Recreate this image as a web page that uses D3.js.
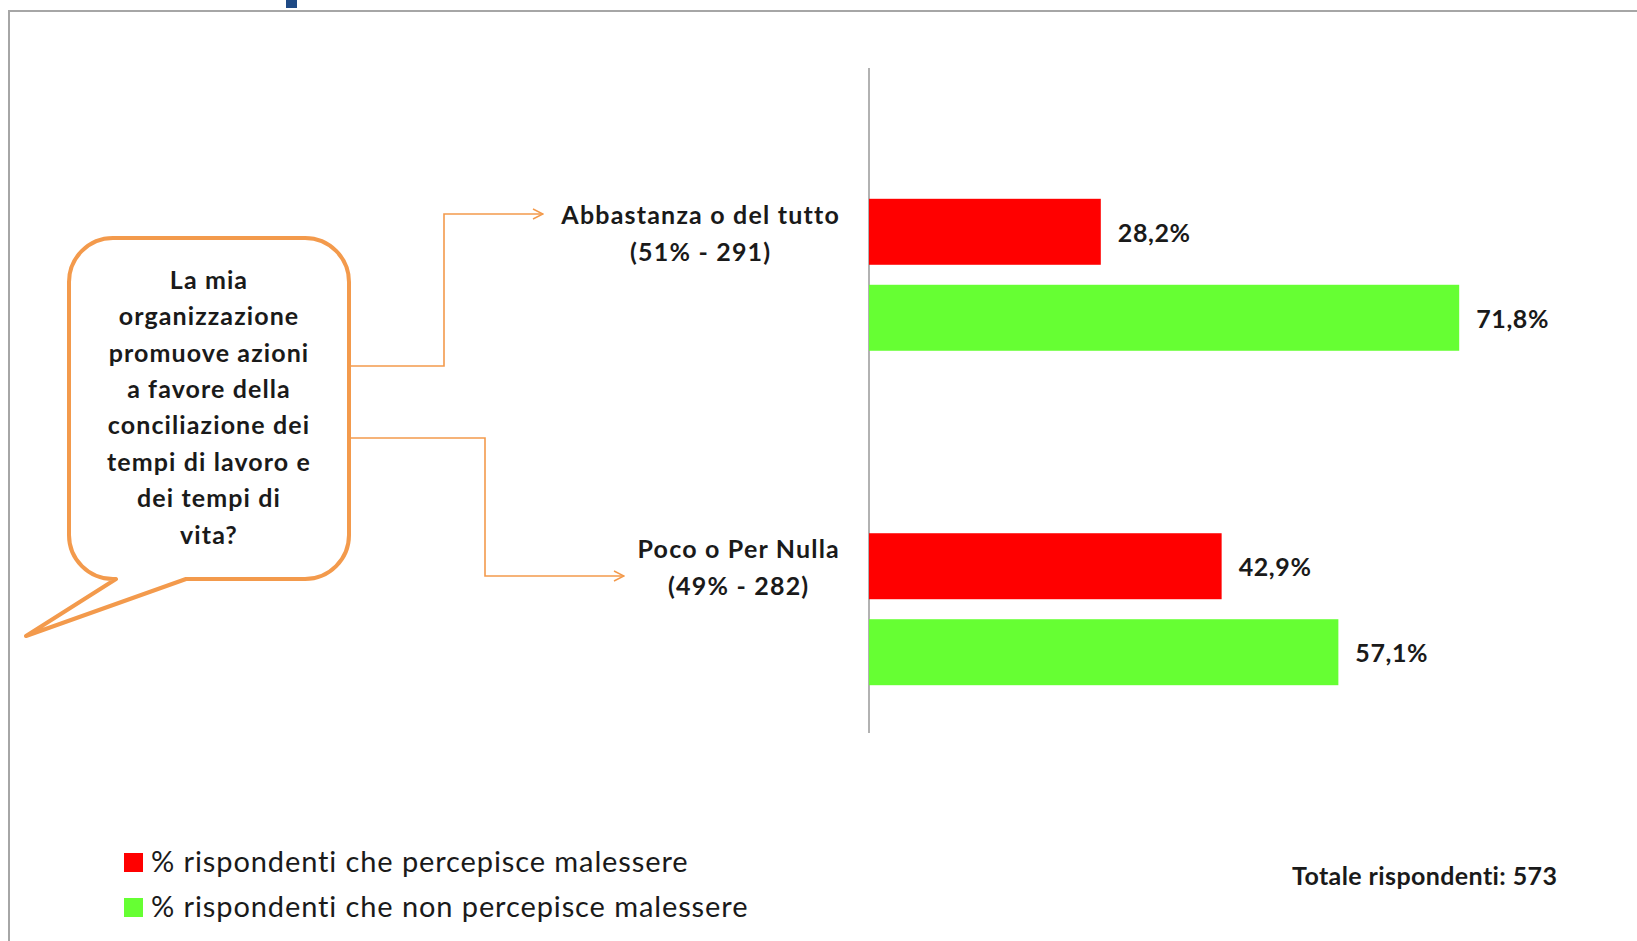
<!DOCTYPE html>
<html>
<head>
<meta charset="utf-8">
<script src="https://cdn.jsdelivr.net/npm/d3@7"></script>
<style>
  body { margin: 0; background: #fff; }
  svg { display: block; font-family: Lato, "Open Sans", sans-serif; }
</style>
</head>
<body>
<div id="chart"></div>
<script>
// data
const categories = ["Abbastanza o del tutto", "Poco o Per Nulla"];
const categoryCounts = ["(51% - 291)", "(49% - 282)"];
const seriesNames = [
  "% rispondenti che percepisce malessere",
  "% rispondenti che non percepisce malessere",
];
const malessere = [28.2, 42.9];
const nonMalessere = [71.8, 57.1];
const questionLines = [
  "La mia",
  "organizzazione",
  "promuove azioni",
  "a favore della",
  "conciliazione dei",
  "tempi di lavoro e",
  "dei tempi di",
  "vita?",
];
const totalLabel = "Totale rispondenti: 573";

const width = 1637;
const height = 941;
const colors = ["#ff0000", "#66ff33"];
const orange = "#f39a4c";
const ink = "#1a1a1a";
const fmt = (v) => d3.format(".1f")(v).replace(".", ",") + "%";

const rows = categories.map((c, i) => ({
  category: c,
  count: categoryCounts[i],
  values: [malessere[i], nonMalessere[i]],
}));

const svg = d3
  .select("#chart")
  .append("svg")
  .attr("width", width)
  .attr("height", height)
  .attr("viewBox", [0, 0, width, height]);

// slide frame
svg
  .append("rect")
  .attr("x", 9)
  .attr("y", 11)
  .attr("width", width)
  .attr("height", height)
  .attr("fill", "none")
  .attr("stroke", "#a6a6a6")
  .attr("stroke-width", 2);
svg
  .append("rect")
  .attr("x", 286)
  .attr("y", 0)
  .attr("width", 11)
  .attr("height", 8)
  .attr("fill", "#1f4a85");

// scales
const axisX = 869;
const x = d3.scaleLinear().domain([0, 100]).range([axisX, axisX + 822]);
const y = d3
  .scaleBand()
  .domain(categories)
  .range([109.5, 774.5])
  .paddingInner(0.5456)
  .paddingOuter(0.267);
const ySub = d3
  .scaleBand()
  .domain(seriesNames)
  .range([0, y.bandwidth()])
  .paddingInner(0.2326);

// vertical axis line
svg
  .append("line")
  .attr("x1", axisX)
  .attr("x2", axisX)
  .attr("y1", 68)
  .attr("y2", 733)
  .attr("stroke", "#7f7f7f")
  .attr("stroke-width", 1.2);

const gGroups = svg
  .append("g")
  .selectAll("g")
  .data(rows)
  .join("g")
  .attr("transform", (d) => `translate(0,${y(d.category)})`);

gGroups
  .selectAll("rect")
  .data((d) => d.values.map((v, i) => ({ v, s: seriesNames[i], i })))
  .join("rect")
  .attr("x", x(0))
  .attr("y", (d) => ySub(d.s))
  .attr("width", (d) => x(d.v) - x(0))
  .attr("height", ySub.bandwidth())
  .attr("fill", (d) => colors[d.i]);

gGroups
  .selectAll(".value-label")
  .data((d) => d.values.map((v, i) => ({ v, s: seriesNames[i] })))
  .join("text")
  .attr("class", "value-label")
  .attr("x", (d) => x(d.v) + 17)
  .attr("y", (d) => ySub(d.s) + ySub.bandwidth() / 2)
  .attr("dy", "0.4em")
  .attr("font-size", 25)
  .attr("font-weight", 700)
  .attr("letter-spacing", 0.6)
  .attr("fill", ink)
  .text((d) => fmt(d.v));

// category labels: first line right-aligned, second centred under it
const labelRight = 840;
gGroups.each(function (d) {
  const g = d3.select(this);
  const t1 = g
    .append("text")
    .attr("x", labelRight)
    .attr("y", 16)
    .attr("dy", "0.35em")
    .attr("text-anchor", "end")
    .attr("font-size", 25)
    .attr("font-weight", 700)
    .attr("letter-spacing", 1.2)
    .attr("fill", ink)
    .text(d.category);
  const w = t1.node().getComputedTextLength();
  g.append("text")
    .attr("x", labelRight - w / 2)
    .attr("y", 53)
    .attr("dy", "0.35em")
    .attr("text-anchor", "middle")
    .attr("font-size", 25)
    .attr("font-weight", 700)
    .attr("letter-spacing", 1.2)
    .attr("fill", ink)
    .text(d.count);
});

// connectors from bubble to categories
svg
  .append("defs")
  .append("marker")
  .attr("id", "arrow")
  .attr("viewBox", "0 0 12 12")
  .attr("refX", 11)
  .attr("refY", 6)
  .attr("markerWidth", 12)
  .attr("markerHeight", 12)
  .attr("markerUnits", "userSpaceOnUse")
  .attr("orient", "auto")
  .append("path")
  .attr("d", "M1,1 L11,6 L1,11")
  .attr("fill", "none")
  .attr("stroke", orange)
  .attr("stroke-width", 1.5);

const connectors = [
  [[341, 366], [444, 366], [444, 214], [543, 214]],
  [[349, 438], [485, 438], [485, 576], [624, 576]],
];
svg
  .append("g")
  .selectAll("path")
  .data(connectors)
  .join("path")
  .attr("d", d3.line())
  .attr("fill", "none")
  .attr("stroke", orange)
  .attr("stroke-width", 1.6)
  .attr("marker-end", "url(#arrow)");

// speech bubble
const bx0 = 69, bx1 = 349, by0 = 238, by1 = 579, br = 44;
const bubble = d3.path();
bubble.moveTo(bx0 + br, by0);
bubble.lineTo(bx1 - br, by0);
bubble.arcTo(bx1, by0, bx1, by0 + br, br);
bubble.lineTo(bx1, by1 - br);
bubble.arcTo(bx1, by1, bx1 - br, by1, br);
bubble.lineTo(186, by1);
bubble.lineTo(26, 636);
bubble.lineTo(116, by1);
bubble.lineTo(bx0 + br, by1);
bubble.arcTo(bx0, by1, bx0, by1 - br, br);
bubble.lineTo(bx0, by0 + br);
bubble.arcTo(bx0, by0, bx0 + br, by0, br);
bubble.closePath();

svg
  .append("path")
  .attr("d", bubble.toString())
  .attr("fill", "#fff")
  .attr("stroke", orange)
  .attr("stroke-width", 4)
  .attr("stroke-linejoin", "round");

svg
  .append("g")
  .selectAll("text")
  .data(questionLines)
  .join("text")
  .attr("x", 209)
  .attr("y", (d, i) => 280 + i * 36.4)
  .attr("dy", "0.35em")
  .attr("text-anchor", "middle")
  .attr("font-size", 25)
  .attr("font-weight", 700)
  .attr("letter-spacing", 1.1)
  .attr("fill", ink)
  .text((d) => d);

// legend
const legend = svg
  .append("g")
  .selectAll("g")
  .data(seriesNames)
  .join("g")
  .attr("transform", (d, i) => `translate(124,${862 + i * 45})`);
legend
  .append("rect")
  .attr("y", -9)
  .attr("width", 19)
  .attr("height", 19)
  .attr("fill", (d, i) => colors[i]);
legend
  .append("text")
  .attr("x", 27)
  .attr("dy", "0.35em")
  .attr("font-size", 29)
  .attr("letter-spacing", 0.9)
  .attr("fill", ink)
  .text((d) => d);

svg
  .append("text")
  .attr("x", 1292)
  .attr("y", 876)
  .attr("dy", "0.35em")
  .attr("font-size", 25)
  .attr("font-weight", 700)
  .attr("letter-spacing", 0.4)
  .attr("fill", ink)
  .text(totalLabel);
</script>
</body>
</html>
